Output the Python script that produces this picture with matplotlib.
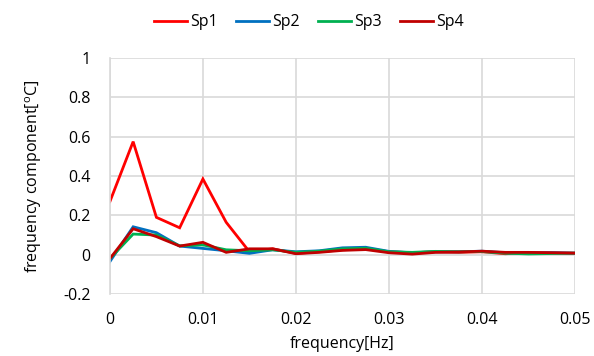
import matplotlib
matplotlib.use("Agg")
import matplotlib.pyplot as plt
import numpy as np

freq = [0.0, 0.0025, 0.005, 0.0075, 0.01, 0.0125, 0.015, 0.0175, 0.02, 0.0225,
        0.025, 0.0275, 0.03, 0.0325, 0.035, 0.0375, 0.04, 0.0425, 0.045, 0.0475, 0.05]

sp1 = [0.27, 0.575, 0.19, 0.137, 0.385, 0.165, 0.015, 0.03, 0.007, 0.015,
       0.025, 0.03, 0.015, 0.01, 0.015, 0.012, 0.015, 0.005, 0.01, 0.01, 0.008]
sp2 = [-0.035, 0.142, 0.112, 0.044, 0.032, 0.02, 0.007, 0.025, 0.015, 0.02,
       0.035, 0.038, 0.017, 0.01, 0.015, 0.015, 0.018, 0.01, 0.008, 0.01, 0.008]
sp3 = [-0.02, 0.105, 0.10, 0.045, 0.05, 0.025, 0.02, 0.025, 0.012, 0.018,
       0.03, 0.033, 0.015, 0.012, 0.017, 0.015, 0.016, 0.008, 0.004, 0.006, 0.008]
sp4 = [-0.02, 0.132, 0.092, 0.044, 0.063, 0.012, 0.03, 0.03, 0.005, 0.012,
       0.022, 0.026, 0.01, 0.003, 0.012, 0.014, 0.018, 0.012, 0.012, 0.01, 0.008]

series = [("Sp1", sp1, "#FF0000"), ("Sp2", sp2, "#0070C0"),
          ("Sp3", sp3, "#00B050"), ("Sp4", sp4, "#C00000")]

plt.rcParams["font.family"] = ["Open Sans", "DejaVu Sans"]
FS = 11.5

fig = plt.figure(figsize=(5.94, 3.56), dpi=100)
ax = fig.add_axes([0.185, 0.174, 0.783, 0.663])

for name, vals, col in series:
    ax.plot(freq, vals, color=col, lw=2.0, label=name, solid_joinstyle="miter")

ax.set_xlim(0, 0.05)
ax.set_ylim(-0.2, 1.0)
ax.set_xticks(np.arange(0, 0.0501, 0.01))
ax.set_xticklabels(["0", "0.01", "0.02", "0.03", "0.04", "0.05"])
ax.set_yticks(np.arange(-0.2, 1.001, 0.2))
ax.set_yticklabels(["-0.2", "0", "0.2", "0.4", "0.6", "0.8", "1"])
ax.grid(True, color="#D9D9D9", lw=1.2)
ax.set_axisbelow(True)
for s in ax.spines.values():
    s.set_visible(False)
ax.spines["left"].set_visible(True)
ax.spines["left"].set_color("#D9D9D9")
ax.spines["left"].set_linewidth(1.2)
ax.tick_params(axis="x", length=0, labelsize=FS, pad=13)
ax.tick_params(axis="y", length=0, labelsize=FS, pad=14)

ax.set_xlabel("frequency[Hz]", fontsize=FS, labelpad=6)
ax.set_ylabel("frequency component[$^{\\mathregular{o}}$C]", fontsize=FS, labelpad=14)

fig.legend(loc="upper center", bbox_to_anchor=(0.52, 1.0), ncol=4, frameon=False,
           fontsize=FS, handlelength=2.1, handletextpad=0.2, columnspacing=1.1)

fig.savefig("out.png", dpi=100)
